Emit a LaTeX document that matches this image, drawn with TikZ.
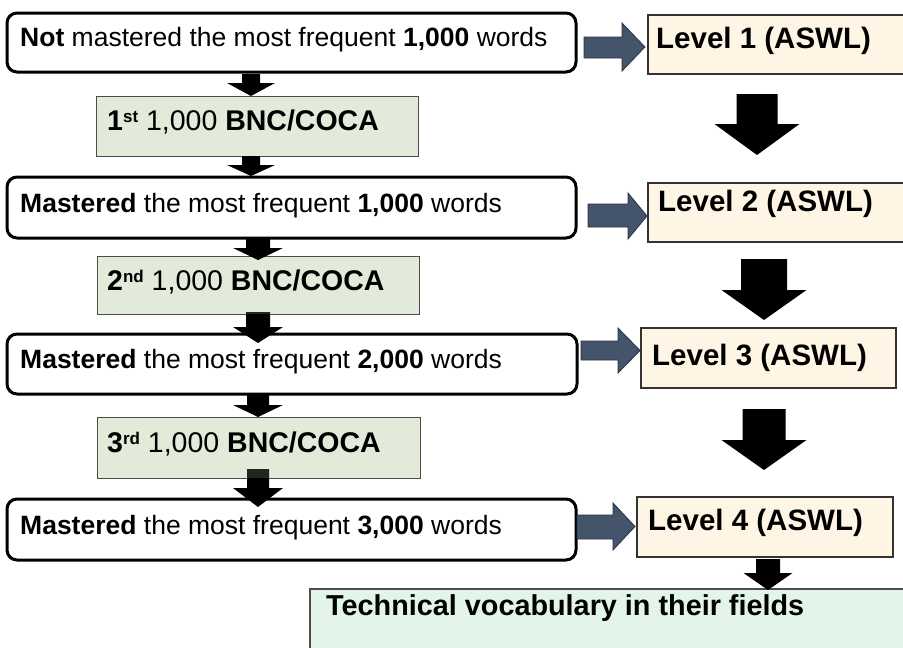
\documentclass[tikz,border=0pt]{standalone}
\usepackage{fontspec}
\setmainfont{Liberation Sans}
\definecolor{greenfill}{RGB}{226,235,217}
\definecolor{cream}{RGB}{255,245,228}
\definecolor{techfill}{RGB}{227,245,235}
\definecolor{slate}{RGB}{68,84,106}
\definecolor{slateedge}{RGB}{40,52,68}
\definecolor{overlap}{RGB}{30,40,28}
\newcommand\bx[6]{\node[#1, minimum width={#5-#3}, minimum height={#6-#4}] (#2) at ({(#3+#5)/2},{(#4+#6)/2}) {};}
% down block arrow: cx, top, head start, tip, shaft half width, head half width
\newcommand\darr[6]{\fill[black] ({#1-#5},#2) -- ({#1+#5},#2) -- ({#1+#5},#3) -- ({#1+#6},#3) -- (#1,#4) -- ({#1-#6},#3) -- ({#1-#5},#3) -- cycle;}
% right block arrow: left x, shaft top, shaft bottom, head x, head top, head bottom, tip x
\newcommand\rarr[7]{\draw[blu] (#1,#2) -- (#4,#2) -- (#4,#5) -- (#7,{(#5+#6)/2}) -- (#4,#6) -- (#4,#3) -- (#1,#3) -- cycle;}
\newcommand\sups[1]{\raisebox{7.5pt}{\fontsize{17}{17}\selectfont #1}}
\begin{document}
\begin{tikzpicture}[x=1pt,y=-1pt,
  lbox/.style={draw=black, line width=3pt, rounded corners=10pt, fill=white, inner sep=0pt},
  gbox/.style={draw=black!70, line width=1pt, fill=greenfill, inner sep=0pt},
  cbox/.style={draw=black!80, line width=1.2pt, fill=cream, inner sep=0pt},
  tbox/.style={draw=black!70, line width=1.2pt, fill=techfill, inner sep=0pt},
  txt/.style={anchor=base west, inner sep=0pt, font=\fontsize{26.5}{30}\selectfont},
  gtxt/.style={anchor=base west, inner sep=0pt, font=\fontsize{28.5}{32}\selectfont},
  ltxt/.style={anchor=base west, inner sep=0pt, font=\fontsize{29.5}{33}\selectfont\bfseries},
  blu/.style={fill=slate, draw=slateedge, line width=0.8pt, line join=miter}]
\useasboundingbox (0,0) rectangle (903,648);
\begin{scope}
\clip (0,0) rectangle (903,648);
% left column boxes
\bx{lbox}{A}{7}{13}{576}{72}
\bx{lbox}{B}{7}{177}{576}{238}
\bx{lbox}{C}{7}{334}{577}{394}
\bx{lbox}{D}{7}{499}{576}{560}
\bx{gbox}{G1}{96}{96}{418}{156}
\bx{gbox}{G2}{97}{256}{419}{314}
\bx{gbox}{G3}{97}{417}{420}{478}
% right column boxes
\bx{cbox}{L1}{648}{15}{904}{74}
\bx{cbox}{L2}{648}{183}{904}{242}
\bx{cbox}{L3}{641}{328}{896}{388}
\bx{cbox}{L4}{637}{497}{893}{557}
\bx{tbox}{T}{310}{589}{906}{652}
% texts
\node[txt] (tA) at (20,46) {\textbf{Not} mastered the most frequent \textbf{1,000} words};
\node[txt] (tB) at (20,212) {\textbf{Mastered} the most frequent \textbf{1,000} words};
\node[txt] (tC) at (20,368) {\textbf{Mastered} the most frequent \textbf{2,000} words};
\node[txt] (tD) at (20,534) {\textbf{Mastered} the most frequent \textbf{3,000} words};
\node[gtxt] (tG1) at (107,130) {\textbf{1\sups{st}} 1,000 \textbf{BNC/COCA}};
\node[gtxt] (tG2) at (107,290) {\textbf{2\sups{nd}} 1,000 \textbf{BNC/COCA}};
\node[gtxt] (tG3) at (107,452) {\textbf{3\sups{rd}} 1,000 \textbf{BNC/COCA}};
\node[ltxt] (tL1) at (656,48) {Level 1 (ASWL)};
\node[ltxt] (tL2) at (658,211) {Level 2 (ASWL)};
\node[ltxt] (tL3) at (652,365) {Level 3 (ASWL)};
\node[ltxt] (tL4) at (648,530) {Level 4 (ASWL)};
\node[ltxt, font=\fontsize{28.8}{32}\selectfont\bfseries] (tT) at (326,615) {Technical vocabulary in their fields};
% left down arrows
\darr{251}{74}{83}{96}{9}{24}
\darr{251}{156}{165}{176}{9}{24}
\darr{258}{239}{248}{260}{12}{25}
\darr{258}{312}{327}{343}{12}{25}
\fill[overlap] (246,312) rectangle (270,314);
\darr{258}{394}{405}{417}{11}{25}
\darr{258}{469}{488}{507}{11}{25}
\fill[overlap] (247,469) rectangle (269,477.5);
% right down arrows
\darr{757}{94}{124}{155}{20.5}{42.5}
\darr{764}{259}{290}{320}{23}{42.5}
\darr{764}{409}{440}{470}{21.5}{42.5}
\darr{768}{559}{573}{590}{12}{24.5}
% blue right arrows
\rarr{584}{37}{58}{622}{23}{71}{645}
\rarr{588}{204}{227}{628}{193}{239}{647}
\rarr{581}{341}{360}{618}{328}{373}{640}
\rarr{577}{515}{539}{613}{503}{550}{635}
\end{scope}
\end{tikzpicture}
\end{document}
